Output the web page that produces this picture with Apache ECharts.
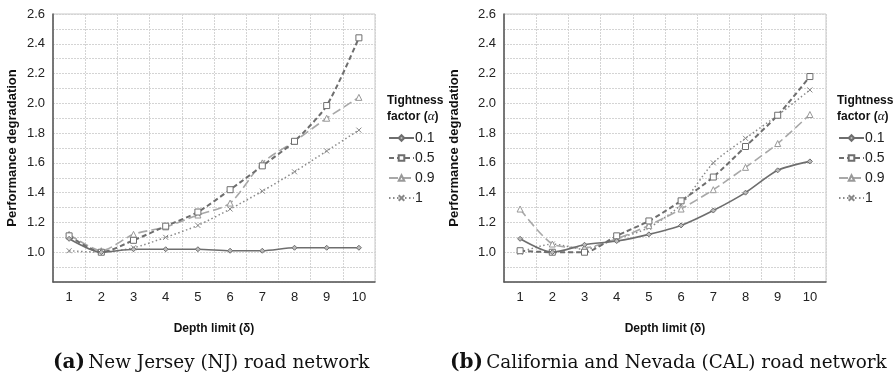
<!DOCTYPE html>
<html>
<head>
<meta charset="utf-8">
<script src="https://cdn.jsdelivr.net/npm/echarts@6/dist/echarts.min.js"></script>
<style>html,body{margin:0;padding:0;background:#fff;}#c{width:894px;height:378px;}</style>
</head>
<body>
<div id="c"></div>
<script>
const depthLimits = ['1','2','3','4','5','6','7','8','9','10'];
const seriesNames = ['0.1','0.5','0.9','1'];
// (a) New Jersey
const nj_01 = [1.09, 1.00, 1.02, 1.02, 1.02, 1.01, 1.01, 1.03, 1.03, 1.03];
const nj_05 = [1.11, 1.00, 1.08, 1.175, 1.27, 1.42, 1.58, 1.745, 1.985, 2.44];
const nj_09 = [1.12, 1.01, 1.12, 1.17, 1.25, 1.33, 1.60, 1.745, 1.90, 2.04];
const nj_1  = [1.01, 1.00, 1.03, 1.10, 1.18, 1.29, 1.41, 1.54, 1.68, 1.82];
// (b) California and Nevada
const cal_01 = [1.09, 1.00, 1.05, 1.075, 1.12, 1.18, 1.28, 1.40, 1.55, 1.61];
const cal_05 = [1.01, 1.00, 1.00, 1.11, 1.21, 1.345, 1.505, 1.71, 1.92, 2.18];
const cal_09 = [1.29, 1.055, 1.03, 1.09, 1.18, 1.29, 1.42, 1.57, 1.73, 1.925];
const cal_1  = [1.00, 1.055, 1.02, 1.09, 1.165, 1.32, 1.60, 1.765, 1.92, 2.09];

const FONT = 'Liberation Sans';
const styles = [
  {line:{color:'#6e6e6e', width:1.6, type:'solid'}, symbol:'diamond', size:5, item:{color:'#bbb', borderColor:'#6e6e6e', borderWidth:1}},
  {line:{color:'#6e6e6e', width:2, type:[5,3]}, symbol:'rect', size:6, item:{color:'#fff', borderColor:'#6e6e6e', borderWidth:1}},
  {line:{color:'#a8a8a8', width:1.6, type:[9,4]}, symbol:'triangle', size:6, item:{color:'#fff', borderColor:'#999', borderWidth:1}},
  {line:{color:'#8a8a8a', width:1.5, type:[1.5,2.5]}, symbol:'path://M0,0L10,10M10,0L0,10', size:5, item:{color:'#fff', borderColor:'#888', borderWidth:1}}
];

function mkSeries(dataList, idx) {
  return dataList.map((d, i) => ({
    name: seriesNames[i], type: 'line', xAxisIndex: idx, yAxisIndex: idx,
    data: d, smooth: 0.25, symbol: styles[i].symbol, symbolSize: styles[i].size,
    showSymbol: true, lineStyle: styles[i].line, itemStyle: styles[i].item,
    color: styles[i].line.color, z: 10 - i
  }));
}

const grids = [
  {left:53, top:14, width:322, height:268},
  {left:504, top:14, width:322, height:268}
];
function xAx(i) {
  return {type:'category', gridIndex:i, data:depthLimits, boundaryGap:true,
    name:'Depth limit (δ)', nameLocation:'middle', nameGap:41,
    nameTextStyle:{fontFamily:FONT, fontWeight:'bold', fontSize:12, color:'#111'},
    axisLine:{lineStyle:{color:'#555', width:1.5}}, axisTick:{show:false},
    axisLabel:{fontFamily:FONT, fontSize:13, color:'#222', margin:9},
    splitLine:{show:true, interval:0, lineStyle:{color:'#d4d4d4', type:[2,1]}}};
}
function yAx(i, gap) {
  return {type:'value', gridIndex:i, min:0.8, max:2.6, interval:0.2,
    name:'Performance degradation', nameLocation:'middle', nameGap:gap,
    nameTextStyle:{fontFamily:FONT, fontWeight:'bold', fontSize:13, color:'#111'},
    axisLine:{show:true, lineStyle:{color:'#555', width:1.5}}, axisTick:{show:false},
    axisLabel:{fontFamily:FONT, fontSize:13, color:'#222', margin:8, showMinLabel:false,
      formatter: v => v.toFixed(1)},
    splitLine:{lineStyle:{color:'#d4d4d4', type:[2,1]}},
    minorTick:{show:false, splitNumber:2},
    minorSplitLine:{show:true, lineStyle:{color:'#d4d4d4', type:[2,1]}}};
}
function legend(i, left) {
  return {orient:'vertical', left:left, top:126, itemWidth:25, itemHeight:7, itemGap:6,
    data: seriesNames.map(n => ({name:n})),
    textStyle:{fontFamily:FONT, fontSize:14, color:'#222', lineHeight:14, padding:[0,0,0,-4]},
    selectedMode:false};
}
function legendTitle(x) {
  return {type:'text', left:x, top:95, style:{
    text:'{b|Tightness}\n{b|factor (}{a|α}{b|)}',
    rich:{b:{fontFamily:FONT, fontWeight:'bold', fontSize:12, fill:'#111', lineHeight:16},
          a:{fontFamily:'Liberation Serif', fontStyle:'italic', fontSize:13, fill:'#111', lineHeight:16}}}};
}
function caption(x, letter, text) {
  return {type:'text', left:x, top:353, style:{
    text:'{b|(' + letter + ')} {n|' + text + '}',
    rich:{b:{fontFamily:'DejaVu Serif', fontWeight:'bold', fontSize:20, fill:'#111'},
          n:{fontFamily:'DejaVu Serif', fontSize:18.4, fill:'#111'}}}};
}

const chart = echarts.init(document.getElementById('c'), null, {renderer:'canvas'});
chart.setOption({
  animation:false,
  backgroundColor:'#fff',
  grid: grids.map(g => Object.assign({show:true, borderColor:'#c8c8c8', borderWidth:1, backgroundColor:'transparent'}, g)),
  xAxis:[xAx(0), xAx(1)],
  yAxis:[yAx(0, 34), yAx(1, 43)],
  legend:[legend(0, 383), legend(1, 833)],
  series: mkSeries([nj_01, nj_05, nj_09, nj_1], 0).concat(mkSeries([cal_01, cal_05, cal_09, cal_1], 1)),
  graphic:[legendTitle(387), legendTitle(837), caption(53,'a','New Jersey (NJ) road network'), caption(450,'b','California and Nevada (CAL) road network')]
});
</script>
</body>
</html>
